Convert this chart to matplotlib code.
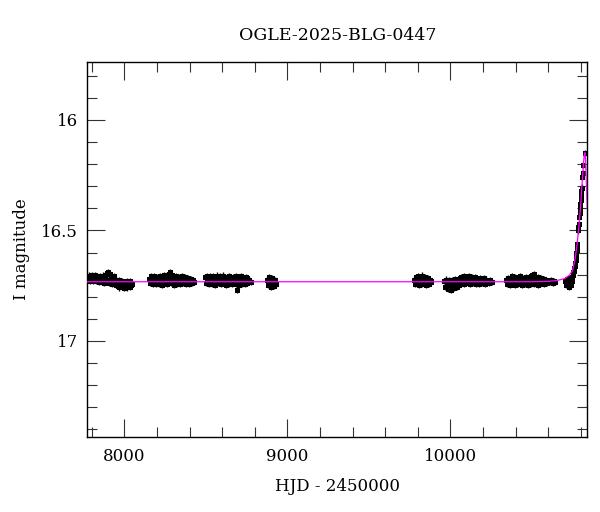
import numpy as np
import matplotlib
matplotlib.use("Agg")
import matplotlib.pyplot as plt
from matplotlib.ticker import MultipleLocator

# OGLE-2025-BLG-0447 light curve

# season 1
s1_hjd = [7781, 7785, 7790, 7794, 7799, 7803, 7808, 7812, 7817, 7821,
          7826, 7830, 7835, 7839, 7844, 7848, 7853, 7857, 7862, 7866,
          7871, 7875, 7880, 7884, 7889, 7893, 7898, 7902, 7907, 7911,
          7916, 7920, 7925, 7929, 7934, 7938, 7943, 7947, 7952, 7956,
          7961, 7965, 7970, 7974, 7979, 7983, 7988, 7992, 7997, 8001,
          8006, 8010, 8015, 8019, 8024, 8028, 8033, 8037, 8042, 8047]
s1_mag = [16.715, 16.704, 16.728, 16.710, 16.722, 16.700, 16.730, 16.712, 16.719, 16.703,
          16.726, 16.708, 16.721, 16.713, 16.731, 16.706, 16.724, 16.711, 16.735, 16.716,
          16.704, 16.738, 16.715, 16.700, 16.732, 16.694, 16.725, 16.690, 16.736, 16.698,
          16.720, 16.704, 16.740, 16.712, 16.728, 16.706, 16.742, 16.722, 16.748, 16.730,
          16.752, 16.726, 16.758, 16.735, 16.748, 16.728, 16.755, 16.738, 16.762, 16.732,
          16.750, 16.742, 16.758, 16.730, 16.746, 16.736, 16.754, 16.728, 16.748, 16.740]

# season 2
s2_hjd = [8154, 8159, 8163, 8168, 8172, 8177, 8181, 8186, 8191, 8195,
          8200, 8204, 8209, 8213, 8218, 8223, 8227, 8232, 8236, 8241,
          8245, 8250, 8255, 8259, 8264, 8268, 8273, 8277, 8282, 8287,
          8291, 8296, 8300, 8305, 8309, 8314, 8319, 8323, 8328, 8332,
          8337, 8341, 8346, 8351, 8355, 8360, 8364, 8369, 8373, 8378,
          8383, 8387, 8392, 8396, 8401, 8405, 8410, 8415, 8419, 8426]
s2_mag = [16.718, 16.738, 16.708, 16.730, 16.712, 16.742, 16.706, 16.726, 16.716, 16.744,
          16.710, 16.734, 16.720, 16.740, 16.705, 16.728, 16.714, 16.746, 16.708, 16.732,
          16.700, 16.724, 16.712, 16.744, 16.704, 16.730, 16.696, 16.722, 16.690, 16.736,
          16.700, 16.726, 16.710, 16.748, 16.714, 16.732, 16.706, 16.740, 16.718, 16.728,
          16.710, 16.742, 16.716, 16.734, 16.708, 16.738, 16.720, 16.730, 16.712, 16.744,
          16.722, 16.734, 16.714, 16.740, 16.724, 16.730, 16.718, 16.736, 16.726, 16.732]

# season 3
s3_hjd = [8496, 8501, 8505, 8510, 8515, 8519, 8524, 8529, 8533, 8538,
          8543, 8547, 8552, 8557, 8561, 8566, 8571, 8575, 8580, 8585,
          8589, 8594, 8599, 8603, 8608, 8613, 8617, 8622, 8627, 8631,
          8636, 8641, 8645, 8650, 8655, 8659, 8664, 8669, 8673, 8678,
          8683, 8687, 8690, 8695, 8699, 8704, 8709, 8713, 8718, 8723,
          8727, 8732, 8737, 8741, 8746, 8751, 8755, 8760, 8767, 8776]
s3_mag = [16.712, 16.736, 16.706, 16.728, 16.716, 16.744, 16.708, 16.732, 16.714, 16.740,
          16.706, 16.726, 16.718, 16.746, 16.710, 16.734, 16.704, 16.738, 16.716, 16.728,
          16.708, 16.742, 16.712, 16.730, 16.704, 16.736, 16.718, 16.748, 16.710, 16.726,
          16.714, 16.740, 16.706, 16.732, 16.720, 16.744, 16.710, 16.728, 16.716, 16.738,
          16.708, 16.742, 16.768, 16.730, 16.712, 16.746, 16.718, 16.734, 16.706, 16.740,
          16.714, 16.730, 16.720, 16.744, 16.710, 16.736, 16.716, 16.728, 16.722, 16.734]

# season 4
s4_hjd = [8875, 8880, 8885, 8890, 8895, 8900, 8905, 8910, 8915, 8920, 8926, 8932]
s4_mag = [16.722, 16.748, 16.712, 16.738, 16.728, 16.754, 16.716, 16.742, 16.730, 16.750,
          16.724, 16.740]

# season 5
s5_hjd = [9779, 9784, 9789, 9794, 9799, 9804, 9809, 9814, 9819, 9824, 9829,
          9834, 9839, 9844, 9849, 9854, 9859, 9864, 9869, 9874, 9879, 9884]
s5_mag = [16.722, 16.742, 16.712, 16.736, 16.706, 16.728, 16.748, 16.716, 16.732, 16.704, 16.740,
          16.720, 16.734, 16.710, 16.746, 16.726, 16.738, 16.716, 16.744, 16.724, 16.734, 16.728]

# season 6
s6_hjd = [9964, 9969, 9973, 9978, 9983, 9987, 9992, 9997, 10001, 10006,
          10011, 10015, 10020, 10025, 10029, 10034, 10039, 10043, 10048, 10053,
          10057, 10062, 10067, 10071, 10076, 10081, 10085, 10090, 10095, 10099,
          10104, 10109, 10113, 10118, 10123, 10127, 10132, 10137, 10141, 10146,
          10151, 10155, 10160, 10165, 10169, 10174, 10179, 10183, 10188, 10193,
          10197, 10202, 10207, 10211, 10216, 10221, 10227, 10235, 10245, 10258]
s6_mag = [16.730, 16.756, 16.722, 16.748, 16.736, 16.766, 16.726, 16.752, 16.740, 16.770,
          16.724, 16.750, 16.734, 16.760, 16.720, 16.744, 16.730, 16.756, 16.726, 16.748,
          16.716, 16.740, 16.710, 16.734, 16.720, 16.744, 16.708, 16.730, 16.716, 16.738,
          16.712, 16.728, 16.706, 16.742, 16.718, 16.732, 16.710, 16.738, 16.722, 16.730,
          16.712, 16.740, 16.716, 16.734, 16.724, 16.742, 16.714, 16.730, 16.720, 16.738,
          16.726, 16.734, 16.716, 16.740, 16.722, 16.732, 16.728, 16.736, 16.726, 16.732]

# season 7
s7_hjd = [10343, 10348, 10352, 10357, 10362, 10367, 10371, 10376, 10381, 10385,
          10390, 10395, 10399, 10404, 10409, 10413, 10418, 10423, 10427, 10432,
          10437, 10441, 10446, 10451, 10455, 10460, 10465, 10469, 10474, 10479,
          10483, 10488, 10493, 10497, 10502, 10507, 10511, 10516, 10521, 10525,
          10530, 10535, 10539, 10544, 10549, 10553, 10558, 10563, 10567, 10572,
          10577, 10582, 10588, 10595, 10602, 10610, 10618, 10627, 10636, 10645]
s7_mag = [16.722, 16.744, 16.714, 16.736, 16.726, 16.748, 16.716, 16.738, 16.708, 16.730,
          16.720, 16.746, 16.712, 16.734, 16.724, 16.742, 16.716, 16.732, 16.708, 16.740,
          16.720, 16.746, 16.714, 16.730, 16.722, 16.744, 16.710, 16.736, 16.718, 16.748,
          16.712, 16.732, 16.706, 16.740, 16.700, 16.728, 16.698, 16.742, 16.710, 16.734,
          16.716, 16.746, 16.712, 16.730, 16.720, 16.742, 16.714, 16.736, 16.724, 16.744,
          16.718, 16.732, 16.724, 16.738, 16.728, 16.734, 16.726, 16.738, 16.730, 16.735]

# season 8: baseline then the rise to the peak
s8_hjd = [10705, 10709, 10713, 10717, 10721, 10725, 10729, 10733, 10737, 10741, 10745, 10748,
          10751, 10754, 10757, 10760, 10763, 10766, 10769, 10771, 10773, 10775, 10777, 10779,
          10783, 10785, 10787, 10791, 10793, 10795, 10797, 10799, 10801, 10803, 10805,
          10809, 10811, 10816, 10825]
s8_mag = [16.728, 16.748, 16.720, 16.742, 16.732, 16.754, 16.716, 16.738, 16.724, 16.746, 16.712, 16.730,
          16.700, 16.690, 16.682, 16.672, 16.660, 16.646, 16.632, 16.618, 16.604, 16.590, 16.575, 16.560,
          16.500, 16.486, 16.472, 16.440, 16.420, 16.400, 16.380, 16.360, 16.340, 16.322, 16.306,
          16.256, 16.240, 16.204, 16.148]

mag_err = 0.014

# model curve (magenta)
model_hjd = [7773, 10500, 10600, 10650, 10700, 10730, 10750, 10765, 10778, 10790,
             10800, 10808, 10816, 10822, 10826, 10830, 10835, 10840]
model_mag = [16.732, 16.732, 16.730, 16.727, 16.718, 16.703, 16.680, 16.630, 16.560, 16.470,
             16.380, 16.290, 16.200, 16.155, 16.148, 16.190, 16.300, 16.400]

hjd = np.concatenate([s1_hjd, s2_hjd, s3_hjd, s4_hjd, s5_hjd, s6_hjd, s7_hjd, s8_hjd])
mag = np.concatenate([s1_mag, s2_mag, s3_mag, s4_mag, s5_mag, s6_mag, s7_mag, s8_mag])

plt.rcParams['font.family'] = ['DejaVu Serif']

fig = plt.figure(figsize=(6, 5.12), dpi=100)
ax = fig.add_axes([0.1455, 0.1471, 0.8333, 0.7313])

ax.errorbar(hjd, mag, yerr=mag_err, fmt='s', ms=3.6, mew=0, color='k',
            ecolor='k', elinewidth=1.0, capsize=2.0, capthick=1.0, zorder=2)
ax.plot(model_hjd, model_mag, color='#ff00ff', lw=0.9, zorder=3)

ax.set_xlim(7773, 10840)
ax.set_ylim(17.433, 15.739)

ax.xaxis.set_major_locator(MultipleLocator(1000))
ax.xaxis.set_minor_locator(MultipleLocator(200))
ax.yaxis.set_major_locator(MultipleLocator(0.5))
ax.yaxis.set_minor_locator(MultipleLocator(0.1))
ax.set_yticks([16, 16.5, 17])
ax.set_yticklabels(['16', '16.5', '17'])

ax.tick_params(which='both', direction='in', top=True, right=True, width=0.8,
               color='#333333', labelsize=12)
ax.tick_params(which='major', length=13)
ax.tick_params(which='minor', length=7)
ax.tick_params(axis='x', pad=8.5)
ax.tick_params(axis='y', pad=6.7)
for sp in ax.spines.values():
    sp.set_linewidth(1.0)

ax.set_xlabel('HJD - 2450000', fontsize=12, labelpad=9)
ax.set_ylabel('I magnitude', fontsize=12, labelpad=8)
ax.set_title('OGLE-2025-BLG-0447', fontsize=12.5, pad=16)

fig.savefig('out.png', dpi=100)
